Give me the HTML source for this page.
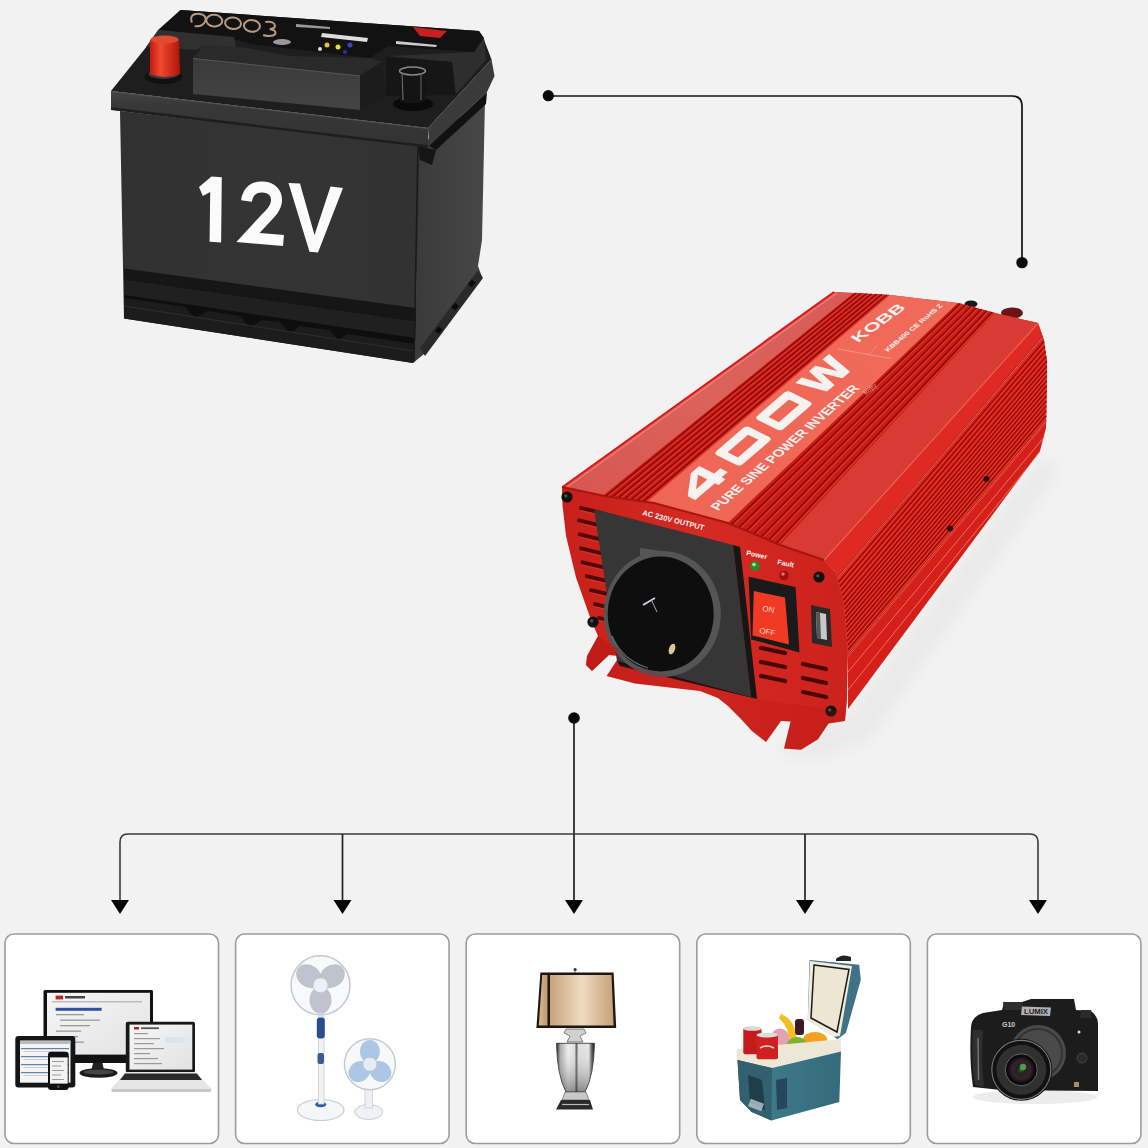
<!DOCTYPE html>
<html><head><meta charset="utf-8"><style>
html,body{margin:0;padding:0;background:#f2f2f2;}
body{width:1148px;height:1148px;overflow:hidden;font-family:"Liberation Sans",sans-serif;}
svg{display:block;}
</style></head><body>
<svg width="1148" height="1148" viewBox="0 0 1148 1148" font-family="Liberation Sans, sans-serif">
<path d="M548,96 H1012 Q1022,96 1022,106 V262" fill="none" stroke="#111" stroke-width="1.7"/>
<circle cx="548.3" cy="95.7" r="5.6" fill="#0a0a0a"/>
<circle cx="1022" cy="262.6" r="5.7" fill="#0a0a0a"/>
<circle cx="574" cy="718" r="5.8" fill="#0a0a0a"/>
<path d="M574,718 V902" fill="none" stroke="#111" stroke-width="1.6"/>
<path d="M120,902 V842 Q120,834 128,834 H1030 Q1038,834 1038,842 V902" fill="none" stroke="#3a3a3a" stroke-width="1.6"/>
<path d="M342.5,834 V902" fill="none" stroke="#222" stroke-width="1.7"/>
<path d="M805,834 V902" fill="none" stroke="#222" stroke-width="1.7"/>
<polygon points="111,900 129,900 120,914" fill="#050505"/>
<polygon points="333.5,900 351.5,900 342.5,914" fill="#050505"/>
<polygon points="565,900 583,900 574,914" fill="#050505"/>
<polygon points="796,900 814,900 805,914" fill="#050505"/>
<polygon points="1029,900 1047,900 1038,914" fill="#050505"/>
<rect x="5.0" y="934" width="213.5" height="209.5" rx="9" fill="#fff" stroke="#9c9c9c" stroke-width="1.6"/>
<rect x="235.6" y="934" width="213.5" height="209.5" rx="9" fill="#fff" stroke="#9c9c9c" stroke-width="1.6"/>
<rect x="466.2" y="934" width="213.5" height="209.5" rx="9" fill="#fff" stroke="#9c9c9c" stroke-width="1.6"/>
<rect x="696.8" y="934" width="213.5" height="209.5" rx="9" fill="#fff" stroke="#9c9c9c" stroke-width="1.6"/>
<rect x="927.4" y="934" width="213.5" height="209.5" rx="9" fill="#fff" stroke="#9c9c9c" stroke-width="1.6"/>
<defs>
<linearGradient id="bFront" x1="0" y1="0" x2="1" y2="0"><stop offset="0" stop-color="#313131"/><stop offset="0.5" stop-color="#343434"/><stop offset="1" stop-color="#323232"/></linearGradient>
<linearGradient id="bSide" x1="0" y1="0" x2="1" y2="0"><stop offset="0" stop-color="#3a3a3a"/><stop offset="1" stop-color="#474747"/></linearGradient>
<linearGradient id="bStrip" x1="0" y1="0" x2="0" y2="1"><stop offset="0" stop-color="#444"/><stop offset="0.25" stop-color="#383838"/><stop offset="1" stop-color="#323232"/></linearGradient>
<linearGradient id="bBlock" x1="0" y1="0" x2="0" y2="1"><stop offset="0" stop-color="#3a3a3a"/><stop offset="1" stop-color="#444"/></linearGradient>
<linearGradient id="redT" x1="0" y1="0" x2="1" y2="0"><stop offset="0" stop-color="#c41a10"/><stop offset="0.35" stop-color="#f04a30"/><stop offset="1" stop-color="#b01408"/></linearGradient>
</defs>
<polygon points="418.0,146.0 485.0,100.0 482.0,240.0 478.0,266.0 482.0,277.0 424.0,354.0 413.0,363.0 416.0,300.0" fill="url(#bSide)"/>
<polygon points="120.0,111.0 420.0,146.0 416.0,312.0 413.0,363.0 124.0,318.5" fill="url(#bFront)"/>
<polygon points="124.0,268.5 416.0,308.0 416.0,322.0 124.0,280.0" fill="#161616"/>
<polygon points="124.0,280.0 416.0,322.0 415.0,342.0 124.0,298.0" fill="#202020"/>
<polygon points="124.0,298.0 415.0,342.0 413.0,363.0 124.0,318.5" fill="#1c1c1c"/>
<polygon points="124.0,298.0 185.0,307.0 195.0,318.0 208.0,311.0 240.0,316.0 250.0,328.0 262.0,320.0 280.0,322.0 290.0,333.0 300.0,326.0 330.0,330.0 338.0,340.0 348.0,334.0 415.0,344.0 415.0,338.0 124.0,295.0" fill="#0e0e0e"/>
<line x1="124" y1="306" x2="413" y2="351" stroke="#2e2e2e" stroke-width="1.2"/>
<polygon points="420.0,348.0 478.0,270.0 483.0,278.0 425.0,356.0" fill="#2a2a2a"/>
<rect x="466.8" y="281.7" width="6" height="5" fill="#0c0c0c" transform="rotate(-50 469.8 281.7)"/>
<rect x="450.2" y="305.1" width="6" height="5" fill="#0c0c0c" transform="rotate(-50 453.2 305.1)"/>
<rect x="433.8" y="328.5" width="6" height="5" fill="#0c0c0c" transform="rotate(-50 436.8 328.5)"/>
<line x1="418" y1="146" x2="414" y2="362" stroke="#1a1a1a" stroke-width="1.5"/>
<polygon points="111.0,91.0 157.5,33.0 180.5,10.0 479.0,31.0 483.0,37.0 491.5,59.5 428.0,128.0" fill="#1e1e1e"/>
<polygon points="111.0,91.0 428.0,128.0 428.0,148.0 111.0,110.0" fill="url(#bStrip)"/>
<line x1="111" y1="108.5" x2="428" y2="146.5" stroke="#1e1e1e" stroke-width="2.5"/>
<line x1="111" y1="91.5" x2="428" y2="128.5" stroke="#555" stroke-width="1"/>
<polygon points="428.0,128.0 491.5,59.5 494.5,76.0 487.0,92.0 429.0,146.0" fill="#3a3a3a"/>
<line x1="428.5" y1="128" x2="491.5" y2="59.5" stroke="#4e4e4e" stroke-width="1"/>
<polygon points="429.0,146.0 487.0,92.0 486.0,104.0 436.0,150.0" fill="#111"/>
<polygon points="418.0,146.0 436.0,150.0 432.0,165.0 420.0,160.0" fill="#151515"/>
<polygon points="158.0,30.0 180.5,10.0 479.0,31.0 484.0,38.0 474.0,52.0 388.0,46.0 370.0,58.0 250.0,44.0 230.0,38.0" fill="#121212"/>
<polygon points="146.0,47.0 158.0,30.0 234.0,37.0 236.0,47.0 204.0,46.0 196.0,50.0" fill="#303030"/>
<polygon points="193.0,58.0 204.0,45.0 236.0,47.0 248.0,48.0 290.0,56.0 370.0,58.0 382.0,62.0 360.0,76.0" fill="#2a2a2a"/>
<polygon points="193.0,58.0 360.0,75.5 360.0,110.0 193.0,94.0" fill="url(#bBlock)"/>
<line x1="193" y1="58.5" x2="360" y2="76" stroke="#555" stroke-width="1"/>
<polygon points="360.0,75.5 382.0,62.0 386.0,96.0 360.0,110.0" fill="#1c1c1c"/>
<polygon points="388.0,56.0 474.0,52.0 484.0,38.0 486.0,60.0 456.0,94.0 452.0,62.0" fill="#2e2e2e"/>
<polygon points="386.0,57.0 452.0,62.0 455.0,95.0 386.0,96.0" fill="#161616"/>
<g fill="none" stroke="#c8a890" stroke-width="2" opacity="0.9" transform="translate(0,4) rotate(5 230 20)"><path d="M192,22 Q188,13 198,12.5 Q207,13 205,20 Q202,26 195,25"/><ellipse cx="214" cy="18" rx="8" ry="5.8"/><ellipse cx="233" cy="19" rx="8" ry="5.8"/><ellipse cx="252" cy="20" rx="8" ry="5.8"/><path d="M265,15 Q274,13 275,18 Q275,21 270,21.5 Q277,22 276,26 Q273,30 264,28"/></g>
<polygon points="322,33 368,38 367,42 321,37" fill="#ddd"/>
<ellipse cx="282" cy="42" rx="9" ry="3" fill="#999"/>
<circle cx="327" cy="45" r="2.5" fill="#e0c040"/><circle cx="338" cy="47" r="2.5" fill="#e8e030"/><circle cx="350" cy="45" r="2.5" fill="#4040c0"/><circle cx="320" cy="49" r="2" fill="#ddd"/><circle cx="345" cy="52" r="2" fill="#3030a0"/>
<polygon points="413,27 447,31 440,38 420,36" fill="#c82020"/>
<polygon points="396,41 437,45 436,47 396,44" fill="#ccc"/>
<polygon points="296,24 330,27 330,29 296,27" fill="#999"/>
<ellipse cx="163.5" cy="77" rx="19" ry="7" fill="#111"/>
<ellipse cx="163.5" cy="74" rx="15" ry="5" fill="#3a3a3a"/>
<path d="M150,40 Q164,34 179,40 L180,74 Q165,80 150,74 Z" fill="url(#redT)"/>
<ellipse cx="164.5" cy="39.5" rx="14" ry="4" fill="#e04a30"/>
<ellipse cx="413" cy="104" rx="20" ry="7" fill="#0a0a0a"/>
<path d="M399,71 Q412,66 426,71 L425,101 Q412,106 400,101 Z" fill="#141414"/>
<ellipse cx="412.5" cy="71" rx="13" ry="4" fill="none" stroke="#888" stroke-width="1.5"/>
<line x1="402" y1="73" x2="403" y2="100" stroke="#777" stroke-width="1"/><line x1="421" y1="73" x2="421" y2="100" stroke="#666" stroke-width="1"/>
<g fill="#fbfbfb"><polygon points="211.5,176.5 221.8,177.3 221.1,242.5 209.6,241.7 210.2,192 202.8,196 199,187"/><polygon points="288.5,183 300,183.6 314.5,235 330.5,186.5 343,188 318,252.5 309.5,251.8"/></g>
<path d="M246.5,201 C248,190 255,186.5 263,187 C272,187.5 277,193 276.5,201 C276,208 271,213 265,219 L248,237.5 L283.5,240.5" fill="none" stroke="#fbfbfb" stroke-width="11" stroke-linejoin="miter" stroke-miterlimit="3"/>
<defs><filter id="blur" x="-50%" y="-50%" width="200%" height="200%"><feGaussianBlur stdDeviation="8"/></filter></defs>
<defs>
<linearGradient id="iRim" x1="0" y1="1" x2="1" y2="0"><stop offset="0" stop-color="#d85650"/><stop offset="0.5" stop-color="#dc625c"/><stop offset="1" stop-color="#d85a56"/></linearGradient>
<linearGradient id="iBand" x1="0" y1="1" x2="1" y2="0"><stop offset="0" stop-color="#f06656"/><stop offset="1" stop-color="#f06a5a"/></linearGradient>
<linearGradient id="iFront" x1="0" y1="0" x2="1" y2="0"><stop offset="0" stop-color="#c8201a"/><stop offset="0.5" stop-color="#d42a22"/><stop offset="1" stop-color="#cc221c"/></linearGradient>
<linearGradient id="iSide" x1="0" y1="1" x2="1" y2="0"><stop offset="0" stop-color="#c81a14"/><stop offset="1" stop-color="#d8261e"/></linearGradient>
<radialGradient id="iShadow" cx="0.5" cy="0.5" r="0.5"><stop offset="0" stop-color="#000" stop-opacity="0.12"/><stop offset="1" stop-color="#000" stop-opacity="0"/></radialGradient>
</defs>
<polygon points="850,712 1042,455 1060,470 870,740 815,760 770,752" fill="#000" opacity="0.03" filter="url(#blur)"/>
<polygon points="824.0,560.0 1038.0,323.0 1044.0,340.0 1047.0,361.0 1046.0,428.0 1040.0,451.0 848.0,709.0 848.0,650.0 844.0,603.0 836.0,573.0" fill="#d42019"/>
<polygon points="824.0,560.0 1038.0,323.0 1044.0,340.0 1042.8,336.6 837.3,578.0 836.0,573.0" fill="#de2a22"/>
<polygon points="837.3,578.0 1042.8,336.6 1047.0,361.0 1046.1,420.7 848.0,654.7 848.0,650.0 844.0,603.0" fill="#d61e16"/>
<line x1="837.3" y1="578.0" x2="1042.8" y2="336.6" stroke="#780806" stroke-width="1.5" opacity="0.8"/>
<line x1="837.3" y1="580.0" x2="1042.8" y2="338.4" stroke="#f23c30" stroke-width="1.3" opacity="0.8"/>
<line x1="838.5" y1="582.5" x2="1044.2" y2="341.5" stroke="#780806" stroke-width="1.5" opacity="0.8"/>
<line x1="838.5" y1="584.5" x2="1044.2" y2="343.3" stroke="#f23c30" stroke-width="1.3" opacity="0.8"/>
<line x1="839.7" y1="587.0" x2="1044.9" y2="346.5" stroke="#780806" stroke-width="1.5" opacity="0.8"/>
<line x1="839.7" y1="589.0" x2="1044.9" y2="348.3" stroke="#f23c30" stroke-width="1.3" opacity="0.8"/>
<line x1="840.9" y1="591.5" x2="1045.6" y2="351.4" stroke="#780806" stroke-width="1.5" opacity="0.8"/>
<line x1="840.9" y1="593.5" x2="1045.6" y2="353.2" stroke="#f23c30" stroke-width="1.3" opacity="0.8"/>
<line x1="842.1" y1="596.0" x2="1046.3" y2="356.4" stroke="#780806" stroke-width="1.5" opacity="0.8"/>
<line x1="842.1" y1="598.0" x2="1046.3" y2="358.2" stroke="#f23c30" stroke-width="1.3" opacity="0.8"/>
<line x1="843.3" y1="600.6" x2="1047.0" y2="361.3" stroke="#780806" stroke-width="1.5" opacity="0.8"/>
<line x1="843.3" y1="602.6" x2="1047.0" y2="363.1" stroke="#f23c30" stroke-width="1.3" opacity="0.8"/>
<line x1="844.2" y1="605.1" x2="1046.9" y2="366.3" stroke="#780806" stroke-width="1.5" opacity="0.8"/>
<line x1="844.2" y1="607.1" x2="1046.9" y2="368.1" stroke="#f23c30" stroke-width="1.3" opacity="0.8"/>
<line x1="844.6" y1="609.6" x2="1046.8" y2="371.2" stroke="#780806" stroke-width="1.5" opacity="0.8"/>
<line x1="844.6" y1="611.6" x2="1046.8" y2="373.0" stroke="#f23c30" stroke-width="1.3" opacity="0.8"/>
<line x1="844.9" y1="614.1" x2="1046.8" y2="376.2" stroke="#780806" stroke-width="1.5" opacity="0.8"/>
<line x1="844.9" y1="616.1" x2="1046.8" y2="378.0" stroke="#f23c30" stroke-width="1.3" opacity="0.8"/>
<line x1="845.3" y1="618.6" x2="1046.7" y2="381.1" stroke="#780806" stroke-width="1.5" opacity="0.8"/>
<line x1="845.3" y1="620.6" x2="1046.7" y2="382.9" stroke="#f23c30" stroke-width="1.3" opacity="0.8"/>
<line x1="845.7" y1="623.1" x2="1046.6" y2="386.1" stroke="#780806" stroke-width="1.5" opacity="0.8"/>
<line x1="845.7" y1="625.1" x2="1046.6" y2="387.9" stroke="#f23c30" stroke-width="1.3" opacity="0.8"/>
<line x1="846.1" y1="627.6" x2="1046.6" y2="391.0" stroke="#780806" stroke-width="1.5" opacity="0.8"/>
<line x1="846.1" y1="629.6" x2="1046.6" y2="392.8" stroke="#f23c30" stroke-width="1.3" opacity="0.8"/>
<line x1="846.5" y1="632.1" x2="1046.5" y2="396.0" stroke="#780806" stroke-width="1.5" opacity="0.8"/>
<line x1="846.5" y1="634.1" x2="1046.5" y2="397.8" stroke="#f23c30" stroke-width="1.3" opacity="0.8"/>
<line x1="846.9" y1="636.7" x2="1046.4" y2="400.9" stroke="#780806" stroke-width="1.5" opacity="0.8"/>
<line x1="846.9" y1="638.7" x2="1046.4" y2="402.7" stroke="#f23c30" stroke-width="1.3" opacity="0.8"/>
<line x1="847.2" y1="641.2" x2="1046.3" y2="405.9" stroke="#780806" stroke-width="1.5" opacity="0.8"/>
<line x1="847.2" y1="643.2" x2="1046.3" y2="407.7" stroke="#f23c30" stroke-width="1.3" opacity="0.8"/>
<line x1="847.6" y1="645.7" x2="1046.3" y2="410.8" stroke="#780806" stroke-width="1.5" opacity="0.8"/>
<line x1="847.6" y1="647.7" x2="1046.3" y2="412.6" stroke="#f23c30" stroke-width="1.3" opacity="0.8"/>
<line x1="848.0" y1="650.2" x2="1046.2" y2="415.8" stroke="#780806" stroke-width="1.5" opacity="0.8"/>
<line x1="848.0" y1="652.2" x2="1046.2" y2="417.6" stroke="#f23c30" stroke-width="1.3" opacity="0.8"/>
<line x1="848.0" y1="654.7" x2="1046.1" y2="420.7" stroke="#780806" stroke-width="1.5" opacity="0.8"/>
<line x1="848.0" y1="656.7" x2="1046.1" y2="422.5" stroke="#f23c30" stroke-width="1.3" opacity="0.8"/>
<line x1="824.0" y1="560.0" x2="1038.0" y2="323.0" stroke="#f4a090" stroke-width="1.2" opacity="0.8"/>
<line x1="837.3" y1="578.0" x2="1042.8" y2="336.6" stroke="#f08478" stroke-width="1.0" opacity="0.8"/>
<line x1="848.0" y1="654.7" x2="1046.1" y2="420.7" stroke="#f08478" stroke-width="1.0" opacity="0.8"/>
<line x1="848.0" y1="672.0" x2="1043.4" y2="438.0" stroke="#f09088" stroke-width="0.9" opacity="0.8"/>
<line x1="848.0" y1="690.0" x2="1040.0" y2="452.0" stroke="#f09088" stroke-width="0.9" opacity="0.8"/>
<circle cx="950" cy="528.5" r="3" fill="#2a1010"/><circle cx="986.5" cy="479" r="3" fill="#2a1010"/>
<ellipse cx="971" cy="304" rx="6.5" ry="3.5" fill="#1a1a1a"/>
<ellipse cx="1012" cy="313" rx="11" ry="5.5" fill="#6a1414"/>
<polygon points="562.0,487.0 607.0,496.5 654.0,503.0 728.0,523.0 780.0,545.0 824.0,560.0 1038.0,323.0 995.0,313.0 958.0,303.0 890.0,295.0 854.0,293.0 834.0,292.0" fill="#d8281f"/>
<polygon points="562.0,487.0 568.8,488.4 575.7,489.9 582.5,491.3 589.3,492.8 596.2,494.2 603.0,495.7 854.0,293.0 850.7,292.8 847.3,292.7 844.0,292.5 840.7,292.3 837.3,292.2 834.0,292.0" fill="url(#iRim)"/>
<line x1="562.5" y1="487" x2="834" y2="292" stroke="#e01414" stroke-width="1.8"/>
<line x1="566" y1="488" x2="837" y2="293" stroke="#f09a94" stroke-width="1" opacity="0.8"/>
<polygon points="603.0,495.7 610.3,497.0 617.7,498.0 625.0,499.0 632.3,500.0 639.7,501.0 647.0,502.0 890.0,295.0 884.0,294.7 878.0,294.3 872.0,294.0 866.0,293.7 860.0,293.3 854.0,293.0" fill="#c41a14"/>
<line x1="606.1" y1="496.3" x2="856.6" y2="293.1" stroke="#7a0604" stroke-width="2" opacity="0.8"/>
<line x1="608.1" y1="496.3" x2="858.2" y2="293.1" stroke="#ee3a30" stroke-width="1.4" opacity="0.8"/>
<line x1="612.4" y1="497.3" x2="861.7" y2="293.4" stroke="#7a0604" stroke-width="2" opacity="0.8"/>
<line x1="614.4" y1="497.3" x2="863.3" y2="293.4" stroke="#ee3a30" stroke-width="1.4" opacity="0.8"/>
<line x1="618.7" y1="498.1" x2="866.9" y2="293.7" stroke="#7a0604" stroke-width="2" opacity="0.8"/>
<line x1="620.7" y1="498.1" x2="868.5" y2="293.7" stroke="#ee3a30" stroke-width="1.4" opacity="0.8"/>
<line x1="625.0" y1="499.0" x2="872.0" y2="294.0" stroke="#7a0604" stroke-width="2" opacity="0.8"/>
<line x1="627.0" y1="499.0" x2="873.6" y2="294.0" stroke="#ee3a30" stroke-width="1.4" opacity="0.8"/>
<line x1="631.3" y1="499.9" x2="877.1" y2="294.3" stroke="#7a0604" stroke-width="2" opacity="0.8"/>
<line x1="633.3" y1="499.9" x2="878.7" y2="294.3" stroke="#ee3a30" stroke-width="1.4" opacity="0.8"/>
<line x1="637.6" y1="500.7" x2="882.3" y2="294.6" stroke="#7a0604" stroke-width="2" opacity="0.8"/>
<line x1="639.6" y1="500.7" x2="883.9" y2="294.6" stroke="#ee3a30" stroke-width="1.4" opacity="0.8"/>
<line x1="643.9" y1="501.6" x2="887.4" y2="294.9" stroke="#7a0604" stroke-width="2" opacity="0.8"/>
<line x1="645.9" y1="501.6" x2="889.0" y2="294.9" stroke="#ee3a30" stroke-width="1.4" opacity="0.8"/>
<polygon points="647.0,502.0 660.5,504.8 674.0,508.4 687.5,512.1 701.0,515.7 714.5,519.4 728.0,523.0 958.0,303.0 946.7,301.7 935.3,300.3 924.0,299.0 912.7,297.7 901.3,296.3 890.0,295.0" fill="url(#iBand)"/>
<polygon points="728.0,523.0 736.7,526.7 745.3,530.3 754.0,534.0 762.7,537.7 771.3,541.3 780.0,545.0 995.0,313.0 988.8,311.3 982.7,309.7 976.5,308.0 970.3,306.3 964.2,304.7 958.0,303.0" fill="#c81c16"/>
<line x1="731.7" y1="524.6" x2="960.6" y2="303.7" stroke="#7a0604" stroke-width="2" opacity="0.8"/>
<line x1="733.7" y1="524.6" x2="962.2" y2="303.7" stroke="#ee3a30" stroke-width="1.4" opacity="0.8"/>
<line x1="739.1" y1="527.7" x2="965.9" y2="305.1" stroke="#7a0604" stroke-width="2" opacity="0.8"/>
<line x1="741.1" y1="527.7" x2="967.5" y2="305.1" stroke="#ee3a30" stroke-width="1.4" opacity="0.8"/>
<line x1="746.6" y1="530.9" x2="971.2" y2="306.6" stroke="#7a0604" stroke-width="2" opacity="0.8"/>
<line x1="748.6" y1="530.9" x2="972.8" y2="306.6" stroke="#ee3a30" stroke-width="1.4" opacity="0.8"/>
<line x1="754.0" y1="534.0" x2="976.5" y2="308.0" stroke="#7a0604" stroke-width="2" opacity="0.8"/>
<line x1="756.0" y1="534.0" x2="978.1" y2="308.0" stroke="#ee3a30" stroke-width="1.4" opacity="0.8"/>
<line x1="761.4" y1="537.1" x2="981.8" y2="309.4" stroke="#7a0604" stroke-width="2" opacity="0.8"/>
<line x1="763.4" y1="537.1" x2="983.4" y2="309.4" stroke="#ee3a30" stroke-width="1.4" opacity="0.8"/>
<line x1="768.9" y1="540.3" x2="987.1" y2="310.9" stroke="#7a0604" stroke-width="2" opacity="0.8"/>
<line x1="770.9" y1="540.3" x2="988.7" y2="310.9" stroke="#ee3a30" stroke-width="1.4" opacity="0.8"/>
<line x1="776.3" y1="543.4" x2="992.4" y2="312.3" stroke="#7a0604" stroke-width="2" opacity="0.8"/>
<line x1="778.3" y1="543.4" x2="994.0" y2="312.3" stroke="#ee3a30" stroke-width="1.4" opacity="0.8"/>
<polygon points="780.0,545.0 787.3,547.5 794.7,550.0 802.0,552.5 809.3,555.0 816.7,557.5 824.0,560.0 1038.0,323.0 1030.8,321.3 1023.7,319.7 1016.5,318.0 1009.3,316.3 1002.2,314.7 995.0,313.0" fill="#d83a34"/>
<line x1="824" y1="560" x2="1038" y2="323" stroke="#f06050" stroke-width="1.2" opacity="0.7"/>
<g transform="matrix(0.7570,-0.6534,0.9387,0.4694,699.0,502.0)" fill="#f6f2f0" fill-rule="evenodd"><path d="M24,-28 L35,-28 L35,-12 L43,-12 L43,-4 L35,-4 L35,0 L26,0 L26,-4 L0,-4 L0,-12 Z M11,-12 L26,-12 L26,-22 Z"/><path transform="translate(54,0)" d="M0,-24 Q0,-28 4,-28 L39,-28 Q43,-28 43,-24 L43,-4 Q43,0 39,0 L4,0 Q0,0 0,-4 Z M8,-19.5 L8,-8.5 L35,-8.5 L35,-19.5 Z"/><path transform="translate(108,0)" d="M0,-24 Q0,-28 4,-28 L39,-28 Q43,-28 43,-24 L43,-4 Q43,0 39,0 L4,0 Q0,0 0,-4 Z M8,-19.5 L8,-8.5 L35,-8.5 L35,-19.5 Z"/><path transform="translate(162,0)" d="M0,-28 L8.5,-28 L12.5,-9 L18,-28 L26.5,-28 L32,-9 L36,-28 L44.5,-28 L37.5,0 L27.5,0 L22.2,-18 L17,0 L7,0 Z"/></g>
<g transform="matrix(0.7570,-0.6534,0.8940,0.4470,718.0,511.0)"><text x="0" y="0" font-size="13.5" font-weight="bold" textLength="188" lengthAdjust="spacingAndGlyphs" fill="#f6f2f0" font-family="Liberation Sans, sans-serif">PURE SINE POWER INVERTER</text></g>
<g transform="matrix(0.8090,-0.5878,0.8500,0.5200,858.0,343.0)"><text x="0" y="0" font-size="14.5" font-weight="bold" textLength="60" lengthAdjust="spacingAndGlyphs" fill="#f6f2f0" font-family="Liberation Sans, sans-serif">KOBB</text></g>
<g transform="matrix(0.7660,-0.6428,0.8500,0.5200,888.0,352.0)"><text x="0" y="0" font-size="6.5" font-weight="bold" textLength="72" lengthAdjust="spacingAndGlyphs" fill="#f6f2f0" font-family="Liberation Sans, sans-serif">KBB400  CE  RoHS  Z</text></g>
<line x1="838" y1="349" x2="891" y2="358.5" stroke="#f4a090" stroke-width="1" opacity="0.8"/>
<line x1="869" y1="355" x2="877" y2="345" stroke="#f4a090" stroke-width="0.8" opacity="0.7"/>
<g transform="matrix(0.7660,-0.6428,0.8500,0.5200,866.0,395.0)"><text x="0" y="0" font-size="7" font-style="italic" fill="#f6c8c0" font-family="Liberation Serif, serif" opacity="0.8">Rafty</text></g>
<polygon points="562.0,487.0 607.0,496.5 654.0,503.0 728.0,523.0 780.0,545.0 824.0,560.0 836.0,573.0 844.0,603.0 848.0,650.0 847.0,700.0 845.0,721.0 828.5,723.6 818.0,739.3 801.0,749.8 784.0,748.5 790.6,721.5 781.0,721.0 766.0,742.0 752.0,731.0 740.0,718.0 728.0,706.0 718.0,698.0 700.0,691.0 635.0,683.6 606.6,676.0 619.7,656.0 609.0,655.0 592.0,671.0 586.0,665.0 587.0,656.0 598.0,636.0 591.0,620.0 576.0,577.6 566.0,535.8 562.5,505.0" fill="url(#iFront)"/>
<polyline points="562.0,487.0 607.0,496.5 654.0,503.0 728.0,523.0 780.0,545.0 824.0,560.0" fill="none" stroke="#a81410" stroke-width="2"/>
<line x1="581.0" y1="508.0" x2="602.0" y2="513.0" stroke="#520808" stroke-width="3.8" stroke-linecap="round"/>
<line x1="581.0" y1="510.8" x2="602.0" y2="515.8" stroke="#e85048" stroke-width="0.8" opacity="0.5"/>
<line x1="579.0" y1="520.4" x2="600.0" y2="525.4" stroke="#520808" stroke-width="3.8" stroke-linecap="round"/>
<line x1="579.0" y1="523.2" x2="600.0" y2="528.2" stroke="#e85048" stroke-width="0.8" opacity="0.5"/>
<line x1="579.7" y1="534.4" x2="600.7" y2="539.4" stroke="#520808" stroke-width="3.8" stroke-linecap="round"/>
<line x1="579.7" y1="537.2" x2="600.7" y2="542.2" stroke="#e85048" stroke-width="0.8" opacity="0.5"/>
<line x1="581.0" y1="548.3" x2="602.0" y2="553.3" stroke="#520808" stroke-width="3.8" stroke-linecap="round"/>
<line x1="581.0" y1="551.1" x2="602.0" y2="556.1" stroke="#e85048" stroke-width="0.8" opacity="0.5"/>
<line x1="582.5" y1="562.3" x2="603.5" y2="567.3" stroke="#520808" stroke-width="3.8" stroke-linecap="round"/>
<line x1="582.5" y1="565.1" x2="603.5" y2="570.1" stroke="#e85048" stroke-width="0.8" opacity="0.5"/>
<line x1="586.7" y1="576.2" x2="607.7" y2="581.2" stroke="#520808" stroke-width="3.8" stroke-linecap="round"/>
<line x1="586.7" y1="579.0" x2="607.7" y2="584.0" stroke="#e85048" stroke-width="0.8" opacity="0.5"/>
<line x1="591.0" y1="590.2" x2="612.0" y2="595.2" stroke="#520808" stroke-width="3.8" stroke-linecap="round"/>
<line x1="591.0" y1="593.0" x2="612.0" y2="598.0" stroke="#e85048" stroke-width="0.8" opacity="0.5"/>
<line x1="595.0" y1="604.1" x2="616.0" y2="609.1" stroke="#520808" stroke-width="3.8" stroke-linecap="round"/>
<line x1="595.0" y1="606.9" x2="616.0" y2="611.9" stroke="#e85048" stroke-width="0.8" opacity="0.5"/>
<line x1="599.2" y1="618.0" x2="620.2" y2="623.0" stroke="#520808" stroke-width="3.8" stroke-linecap="round"/>
<line x1="599.2" y1="620.8" x2="620.2" y2="625.8" stroke="#e85048" stroke-width="0.8" opacity="0.5"/>
<polygon points="594,509 733,545 751,697 617,661" fill="#363636"/>
<polygon points="733,545 740,547 757,699 751,697" fill="#161616"/>
<polygon points="617,661 751,697 757,699 620,666" fill="#111"/>
<ellipse cx="662.3" cy="614" rx="58.5" ry="63" fill="#555"/>
<polygon points="640,548 668,552 665,575 640,571" fill="#555"/>
<ellipse cx="660.7" cy="614" rx="53" ry="57.5" fill="#0e0e0e"/>
<line x1="643" y1="605" x2="655" y2="598" stroke="#d8d8f0" stroke-width="1.6"/><line x1="651" y1="599" x2="657" y2="612" stroke="#aab" stroke-width="1"/>
<ellipse cx="672" cy="649" rx="3" ry="5.5" fill="#d8c890" transform="rotate(20 672 649)"/>
<path d="M612,636 Q622,660 648,668" fill="none" stroke="#9aa" stroke-width="1.2" opacity="0.6"/>
<text x="0" y="0" transform="translate(642,515) rotate(14)" font-size="7.5" font-weight="bold" fill="#f2f2f2" font-family="Liberation Sans, sans-serif">AC 230V OUTPUT</text>
<text x="0" y="0" transform="translate(746,555) rotate(12)" font-size="7" font-weight="bold" fill="#f5f5f5" font-family="Liberation Sans, sans-serif">Power</text>
<text x="0" y="0" transform="translate(777,564) rotate(12)" font-size="7" font-weight="bold" fill="#f5f5f5" font-family="Liberation Sans, sans-serif">Fault</text>
<circle cx="755" cy="566" r="4.8" fill="#2a8a2a"/><circle cx="754" cy="564.5" r="1.8" fill="#9f9"/>
<circle cx="784" cy="575.5" r="4.8" fill="#a01010"/><circle cx="783" cy="574" r="1.8" fill="#f66"/>
<polygon points="748.6,576.7 795.6,587 799.5,652.5 751.2,639.4" fill="#1a1a1a"/>
<polygon points="753.8,591 785,597.6 789,644.6 752.5,635.5" fill="#f03a22"/>
<text x="0" y="0" transform="translate(762,611) rotate(10)" font-size="8" fill="#ffd8d0" font-family="Liberation Sans, sans-serif">ON</text>
<text x="0" y="0" transform="translate(759,633) rotate(10)" font-size="8" fill="#ffd8d0" font-family="Liberation Sans, sans-serif">OFF</text>
<polygon points="811,605 830,609 832,647 812,643" fill="#2a2a2a"/>
<polygon points="816,612 826,614 827,640 817,638" fill="#c8c8c8"/>
<polygon points="816,612 820,613 821,639 817,638" fill="#555"/>
<line x1="761.0" y1="648.0" x2="785.0" y2="653.0" stroke="#4a0604" stroke-width="4.2" stroke-linecap="round"/>
<line x1="803.0" y1="664.0" x2="826.0" y2="669.0" stroke="#4a0604" stroke-width="4.2" stroke-linecap="round"/>
<line x1="761.0" y1="662.0" x2="785.0" y2="667.0" stroke="#4a0604" stroke-width="4.2" stroke-linecap="round"/>
<line x1="803.0" y1="678.0" x2="826.0" y2="683.0" stroke="#4a0604" stroke-width="4.2" stroke-linecap="round"/>
<line x1="761.0" y1="676.0" x2="785.0" y2="681.0" stroke="#4a0604" stroke-width="4.2" stroke-linecap="round"/>
<line x1="803.0" y1="692.0" x2="826.0" y2="697.0" stroke="#4a0604" stroke-width="4.2" stroke-linecap="round"/>
<circle cx="567" cy="497" r="5.6" fill="#121212"/><circle cx="565.8" cy="495.8" r="1.6" fill="#555"/>
<circle cx="593" cy="622" r="5.6" fill="#121212"/><circle cx="591.8" cy="620.8" r="1.6" fill="#555"/>
<circle cx="819" cy="577" r="5.6" fill="#121212"/><circle cx="817.8" cy="575.8" r="1.6" fill="#555"/>
<circle cx="831" cy="711" r="5.6" fill="#121212"/><circle cx="829.8" cy="709.8" r="1.6" fill="#555"/>
<polygon points="606.6,676 635,683.6 700,691 718,698 728,706 740,718 752,731 766,742 781,721 790.6,721.5 784,748.5 801,749.8 818,739.3 828.5,723.6 845,721 846,712 800,705 757,700 700,684 617,663" fill="#b01010" opacity="0.2"/>
<polygon points="598,636 587,656 586,665 592,671 609,655 619.7,656 617,648" fill="#b01010" opacity="0.35"/>
<defs>
<linearGradient id="shade" x1="0" y1="0" x2="1" y2="0"><stop offset="0" stop-color="#c8a27a"/><stop offset="0.5" stop-color="#eedcc0"/><stop offset="1" stop-color="#c8a07a"/></linearGradient>
<linearGradient id="shadeL" x1="0" y1="0" x2="1" y2="0"><stop offset="0" stop-color="#d8b890"/><stop offset="1" stop-color="#c09870"/></linearGradient>
<linearGradient id="vase" x1="0" y1="0" x2="1" y2="0"><stop offset="0" stop-color="#222"/><stop offset="0.1" stop-color="#aaa"/><stop offset="0.3" stop-color="#eee"/><stop offset="0.48" stop-color="#ddd"/><stop offset="0.52" stop-color="#555"/><stop offset="0.58" stop-color="#ddd"/><stop offset="0.85" stop-color="#e4e4e4"/><stop offset="0.93" stop-color="#555"/><stop offset="1" stop-color="#1a1a1a"/></linearGradient>
<linearGradient id="vaseV" x1="0" y1="0" x2="0" y2="1"><stop offset="0" stop-color="#fff" stop-opacity="0"/><stop offset="1" stop-color="#333" stop-opacity="0.5"/></linearGradient>
<radialGradient id="lensG" cx="0.5" cy="0.5" r="0.5"><stop offset="0" stop-color="#2a6a30"/><stop offset="0.3" stop-color="#1a2a1a"/><stop offset="0.7" stop-color="#3a2030"/><stop offset="1" stop-color="#111"/></radialGradient>
<linearGradient id="teal" x1="0" y1="0" x2="1" y2="0"><stop offset="0" stop-color="#2e5a68"/><stop offset="0.3" stop-color="#3e7a8a"/><stop offset="1" stop-color="#356a7a"/></linearGradient>
<linearGradient id="screenG" x1="0" y1="0" x2="1" y2="1"><stop offset="0" stop-color="#f6f6f6"/><stop offset="1" stop-color="#e2e2e2"/></linearGradient>
</defs>
<g>
<rect x="43.5" y="990" width="109.5" height="73" rx="1.5" fill="#111"/>
<rect x="47" y="992.8" width="103" height="61.8" fill="url(#screenG)"/>
<rect x="55.6" y="995.6" width="7.5" height="3.8" fill="#c02020"/>
<rect x="65" y="996" width="20" height="2.5" fill="#444"/>
<rect x="52" y="1001" width="90" height="1.5" fill="#bbb"/>
<rect x="55.6" y="1007.8" width="46" height="3" fill="#3050a0"/>
<rect x="56" y="1014.0" width="28" height="1.3" fill="#999"/>
<rect x="60" y="1019.5" width="40" height="1.3" fill="#999"/>
<rect x="60" y="1025.0" width="30" height="1.3" fill="#999"/>
<rect x="56" y="1030.5" width="25" height="1.3" fill="#999"/>
<rect x="60" y="1036.0" width="18" height="1.3" fill="#999"/>
<rect x="62" y="1041.5" width="22" height="1.3" fill="#999"/>
<polygon points="93,1063 102.5,1063 104,1070 91.5,1070" fill="#222"/>
<ellipse cx="98.5" cy="1073" rx="19" ry="4.8" fill="#1a1a1a"/>
<ellipse cx="98.5" cy="1072" rx="15" ry="2.5" fill="#444"/>
<rect x="15.3" y="1036" width="60" height="51.4" rx="3" fill="#151515"/>
<rect x="20" y="1040.5" width="50.5" height="42.2" fill="#f4f4f4"/>
<rect x="20" y="1041" width="50.5" height="3" fill="#bbb"/>
<rect x="21" y="1048" width="48" height="1.2" fill="#6080b0"/>
<rect x="24" y="1051" width="40" height="1" fill="#ccc"/>
<rect x="21" y="1056" width="48" height="1.2" fill="#6080b0"/>
<rect x="24" y="1059" width="40" height="1" fill="#ccc"/>
<rect x="21" y="1064" width="48" height="1.2" fill="#6080b0"/>
<rect x="24" y="1067" width="40" height="1" fill="#ccc"/>
<rect x="21" y="1072" width="48" height="1.2" fill="#6080b0"/>
<rect x="24" y="1075" width="40" height="1" fill="#ccc"/>
<rect x="48" y="1051.8" width="20.7" height="38.2" rx="3" fill="#101010"/>
<rect x="50" y="1057.4" width="17.7" height="26.2" fill="#f2f2f2"/>
<rect x="52" y="1061.0" width="12" height="1" fill="#999"/>
<rect x="52" y="1065.5" width="9" height="1" fill="#999"/>
<rect x="52" y="1070.0" width="12" height="1" fill="#999"/>
<rect x="52" y="1074.5" width="9" height="1" fill="#999"/>
<rect x="52" y="1079.0" width="12" height="1" fill="#999"/>
<circle cx="58.3" cy="1086.8" r="1.3" fill="#555"/>
<rect x="125.8" y="1021.8" width="69.2" height="51" rx="2" fill="#181818"/>
<rect x="129.5" y="1024.6" width="62.8" height="45" fill="url(#screenG)"/>
<rect x="134" y="1027" width="5" height="2.5" fill="#c02020"/>
<rect x="141" y="1027.3" width="18" height="1.8" fill="#555"/>
<rect x="134" y="1033" width="14" height="1.2" fill="#999"/>
<rect x="134" y="1038" width="26" height="1.2" fill="#999"/>
<rect x="134" y="1043" width="20" height="1.2" fill="#999"/>
<rect x="134" y="1048" width="30" height="1.2" fill="#999"/>
<rect x="134" y="1053" width="16" height="1.2" fill="#999"/>
<rect x="134" y="1058" width="24" height="1.2" fill="#999"/>
<rect x="134" y="1063" width="28" height="1.2" fill="#999"/>
<rect x="165" y="1037" width="20" height="6" fill="#dde4ec"/>
<polygon points="125.8,1072 195,1072 211,1088 211,1092 111.7,1092 111.7,1088" fill="#e6e6e6"/>
<polygon points="125,1073.5 197,1073.5 202,1080 120,1080" fill="#2a2a2a"/>
<rect x="111.7" y="1089" width="99.3" height="3" fill="#c8c8c8"/>
</g>
<ellipse cx="320.7" cy="1110" rx="23.3" ry="10.5" fill="#f4f6f8" stroke="#c8ccd4" stroke-width="1.2"/>
<ellipse cx="320.7" cy="1104.5" rx="5.5" ry="2.8" fill="#2a5aa8"/>
<rect x="318.5" y="1016" width="5.5" height="88" fill="#f0f2f4" stroke="#c8ccd4" stroke-width="0.8"/>
<rect x="316.8" y="1017.5" width="8" height="21" rx="3" fill="#2c4c8c"/>
<rect x="317.5" y="1053" width="6.5" height="11" rx="2" fill="#3a5a98"/>
<circle cx="320.5" cy="985.3" r="29.5" fill="#f8f9fb" stroke="#c4c8d0" stroke-width="1.5"/>
<ellipse cx="320.5" cy="970.5" rx="11" ry="13.5" fill="#b4bac4" opacity="0.85" transform="rotate(-52 320.5 985.3)"/>
<ellipse cx="320.5" cy="970.5" rx="11" ry="13.5" fill="#b4bac4" opacity="0.85" transform="rotate(52 320.5 985.3)"/>
<ellipse cx="320.5" cy="970.5" rx="11" ry="13.5" fill="#b4bac4" opacity="0.85" transform="rotate(180 320.5 985.3)"/>
<circle cx="320.5" cy="985.3" r="7.5" fill="#eef0f4" stroke="#c0c4cc" stroke-width="0.8"/>
<ellipse cx="368.7" cy="1112" rx="14" ry="7.5" fill="#eef1f5" stroke="#c8ccd4" stroke-width="1"/>
<rect x="365" y="1086" width="7.5" height="22" fill="#eef0f4" stroke="#c8ccd4" stroke-width="0.8"/>
<circle cx="369.9" cy="1064.2" r="25.5" fill="#f6f8fa" stroke="#c4c8d0" stroke-width="1.4"/>
<ellipse cx="369.9" cy="1051.5" rx="10" ry="11.5" fill="#a4c0e2" opacity="0.9" transform="rotate(0 369.9 1064.2)"/>
<ellipse cx="369.9" cy="1051.5" rx="10" ry="11.5" fill="#a4c0e2" opacity="0.9" transform="rotate(125 369.9 1064.2)"/>
<ellipse cx="369.9" cy="1051.5" rx="10" ry="11.5" fill="#a4c0e2" opacity="0.9" transform="rotate(235 369.9 1064.2)"/>
<circle cx="369.9" cy="1064.2" r="7" fill="#e8ecf2" stroke="#b8c0cc" stroke-width="0.8"/>
<circle cx="575.1" cy="969.5" r="1.6" fill="#333"/>
<line x1="575.1" y1="970" x2="575.1" y2="973" stroke="#555" stroke-width="0.8"/>
<polygon points="540.4,972.5 613.6,972.5 616.2,1028 536.4,1028" fill="#1e1612"/>
<polygon points="542.2,975 547.5,975 547.5,1025.5 538.8,1025.5" fill="url(#shadeL)"/>
<polygon points="550,975 611.5,975 613.6,1025.5 550,1025.5" fill="url(#shade)"/>
<path d="M566,1029 L584,1029 L586,1033 L580,1036 L583,1042 L567,1042 L570,1036 L564,1033 Z" fill="#d0d0d0" stroke="#555" stroke-width="0.7"/>
<path d="M556.6,1043.3 L594.4,1043.3 Q594,1075 585,1092 L566,1092 Q557,1075 556.6,1043.3 Z" fill="url(#vase)" stroke="#2a2a2a" stroke-width="0.8"/>
<path d="M556.6,1043.3 L594.4,1043.3 Q594,1075 585,1092 L566,1092 Q557,1075 556.6,1043.3 Z" fill="url(#vaseV)"/>
<polygon points="565,1092 586,1092 589,1100 562,1100" fill="#c8c8c8" stroke="#555" stroke-width="0.6"/>
<polygon points="561,1100 590,1100 593,1109.5 556,1109.5" fill="#2a2a2a"/>
<line x1="562" y1="1104.5" x2="589" y2="1104.5" stroke="#bbb" stroke-width="1.2"/>
<polygon points="809.5,960 859.2,964.8 860.8,979.7 846,1032.7 837.6,1039.3 807.8,1019.4" fill="#3e7284"/>
<polygon points="810,961 852,966 840,1036 833,1037 807.8,1019.4" fill="#f2ecdc"/>
<polygon points="814,965 849,969.5 837,1032 811,1018" fill="#ece6d2" stroke="#1a1a1a" stroke-width="1.5"/>
<path d="M836,959 Q842,953 851,957 L851,961 L836,961 Z" fill="#222"/>
<ellipse cx="780" cy="1039" rx="9.5" ry="10.5" fill="#e4a0b4"/>
<path d="M781,1014 Q797,1020 797,1045 L790,1046 Q790,1028 779,1018 Z" fill="#f0c020"/>
<rect x="795" y="1019" width="9" height="16" fill="#3a1a24" rx="3"/>
<ellipse cx="815" cy="1040" rx="12" ry="8" fill="#f2a020"/>
<ellipse cx="797" cy="1045" rx="10" ry="8" fill="#80b030"/>
<circle cx="792" cy="1048" r="3" fill="#5a9020"/><circle cx="800" cy="1050" r="3" fill="#5a9020"/>
<polygon points="736.7,1049 841,1039 841,1051.5 772,1068 736.7,1061" fill="#ede7d6"/>
<polygon points="737.5,1060 772,1068 841,1051.5 839.3,1102 771.4,1120.4 751.6,1112 740,1100" fill="url(#teal)"/>
<polygon points="737.5,1060 772,1068 771.4,1120.4 751.6,1112 740,1100" fill="#33606e"/>
<polygon points="748,1075 762,1080 765,1110 750,1103" fill="#1e3e4a"/>
<polygon points="776,1080 787,1078 787,1108 777,1110" fill="#24485a"/>
<rect x="749" y="1101" width="14" height="8" fill="#d0d8dc" opacity="0.7" transform="rotate(20 756 1105)"/>
<rect x="743.3" y="1027.7" width="18.2" height="26.5" rx="2" fill="#c41c1c"/>
<ellipse cx="752.4" cy="1028.5" rx="9.1" ry="2.3" fill="#d8d8d8"/>
<rect x="756.5" y="1034.3" width="21.5" height="25" rx="2" fill="#d02020"/>
<ellipse cx="767.2" cy="1035" rx="10.7" ry="2.5" fill="#ddd"/>
<path d="M760,1048 Q767,1044 774,1048" stroke="#f4d8d8" stroke-width="1.5" fill="none"/>
<ellipse cx="1035" cy="1097" rx="62" ry="7" fill="#ececec"/>
<path d="M971,1027 Q972,1016 983,1013 L1002,1010 L1004,1003 L1022,1002 L1031,999 L1074,999 L1076,1010 L1091,1011 Q1098,1016 1098,1024 L1098,1091 L1001,1090 L973,1087 Q969,1060 971,1027 Z" fill="#1c1c1c"/>
<path d="M1003,1002 L1023,1002 L1022,1010 L1004,1010 Z" fill="#2e2e2e"/>
<path d="M1081,1010 L1091,1010 L1092,1018 L1080,1018 Z" fill="#2a2a2a"/>
<path d="M973,1030 Q971,1060 975,1085 L984,1087 Q981,1060 983,1030 Z" fill="#2e2e2e"/>
<line x1="978" y1="1038" x2="978.5" y2="1080" stroke="#999" stroke-width="1.4" opacity="0.7"/>
<polygon points="1022,1006.4 1051,1007.5 1050,1016 1021,1015" fill="#b0b0b0"/>
<text x="1024" y="1014.3" font-size="7.5" font-weight="bold" fill="#222" font-family="Liberation Sans, sans-serif" textLength="24" lengthAdjust="spacingAndGlyphs">LUMIX</text>
<text x="1002" y="1027" font-size="7" font-weight="bold" fill="#ccc" font-family="Liberation Sans, sans-serif">G10</text>
<circle cx="1038" cy="1053" r="28" fill="#4a4a4a"/>
<circle cx="1038" cy="1053" r="24" fill="none" stroke="#333" stroke-width="2"/>
<circle cx="1021.3" cy="1069.8" r="31" fill="#111"/>
<circle cx="1021.3" cy="1069.8" r="29.5" fill="none" stroke="#777" stroke-width="1.2"/>
<circle cx="1021.3" cy="1069.8" r="25" fill="#303030"/>
<circle cx="1021.3" cy="1069.8" r="16" fill="#0a0a0a" stroke="#666" stroke-width="1"/>
<circle cx="1021.3" cy="1069.8" r="13" fill="url(#lensG)"/>
<circle cx="1023" cy="1067" r="3.2" fill="#5aaa50" opacity="0.85"/>
<circle cx="1082" cy="1058" r="5" fill="#2a2a2a" stroke="#444" stroke-width="1"/>
<rect x="1074" y="1082" width="5" height="5" fill="#a89060"/>
<circle cx="1079" cy="1032" r="1.5" fill="#ddd"/>
</svg>
</body></html>
